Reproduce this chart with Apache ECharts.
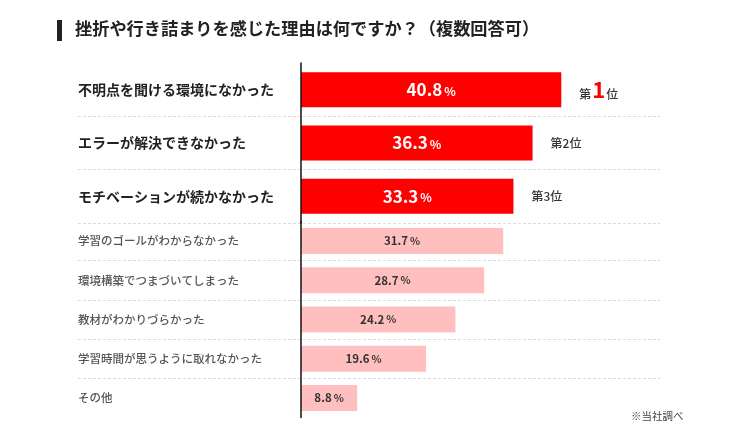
<!DOCTYPE html>
<html>
<head>
<meta charset="utf-8">
<script src="https://cdn.jsdelivr.net/npm/echarts@6/dist/echarts.min.js"></script>
<style>
html,body{margin:0;padding:0;background:#fff;}
#c{width:752px;height:439px;}
</style>
</head>
<body>
<div id="c"></div>
<script>
var titleText = '挫折や行き詰まりを感じた理由は何ですか？（複数回答可）';
var noteText = '※当社調べ';
var topCats = ['不明点を聞ける環境になかった', 'エラーが解決できなかった', 'モチベーションが続かなかった'];
var topVals = [40.8, 36.3, 33.3];
var topRanks = ['1', '2', '3'];
var bottomCats = ['学習のゴールがわからなかった', '環境構築でつまづいてしまった', '教材がわかりづらかった', '学習時間が思うように取れなかった', 'その他'];
var bottomVals = [31.7, 28.7, 24.2, 19.6, 8.8];

var FONT = '"Noto Sans CJK JP", "Noto Sans", sans-serif';
var chart = echarts.init(document.getElementById('c'), null, {renderer: 'canvas'});

function valueAxis(idx) {
  return {gridIndex: idx, type: 'value', min: 0, max: 50, show: false};
}

var option = {
  backgroundColor: '#ffffff',
  animation: false,
  textStyle: {fontFamily: FONT},
  title: [
    {text: titleText, left: 75, top: 20, padding: 0,
     textStyle: {fontFamily: FONT, fontSize: 17.2, fontWeight: 'bold', color: '#222'}},
    {text: noteText, left: 631, top: 411, padding: 0,
     textStyle: {fontFamily: FONT, fontSize: 10.5, fontWeight: 'normal', color: '#444'}}
  ],
  graphic: [
    {type: 'rect', left: 57, top: 20, shape: {width: 5, height: 21}, style: {fill: '#222'}}
  ],
  grid: [
    {left: 301, right: 132, top: 63, height: 160},
    {left: 301, right: 132, top: 221.5, height: 196},
    {left: 78, right: 92, top: 63, height: 160},
    {left: 78, right: 92, top: 221.5, height: 196}
  ],
  xAxis: [valueAxis(0), valueAxis(1), valueAxis(2), valueAxis(3)],
  yAxis: [
    {gridIndex: 0, type: 'category', data: topCats, inverse: true, z: 5,
     axisLine: {show: true, lineStyle: {color: '#111', width: 1.5}},
     axisTick: {show: false}, splitLine: {show: false},
     axisLabel: {align: 'left', margin: 223, fontFamily: FONT, fontSize: 14, fontWeight: 'bold', color: '#222'}},
    {gridIndex: 1, type: 'category', data: bottomCats, inverse: true, z: 5,
     axisLine: {show: true, lineStyle: {color: '#111', width: 1.5}},
     axisTick: {show: false}, splitLine: {show: false},
     axisLabel: {align: 'left', margin: 223, fontFamily: FONT, fontSize: 11.5, fontWeight: 500, color: '#555'}},
    {gridIndex: 2, type: 'category', data: topCats, inverse: true,
     axisLine: {show: false}, axisTick: {show: false}, axisLabel: {show: false},
     splitLine: {show: true, interval: 0, showMinLine: false, showMaxLine: true,
                 lineStyle: {color: '#dcdcdc', type: [3, 2], width: 1}}},
    {gridIndex: 3, type: 'category', data: bottomCats, inverse: true,
     axisLine: {show: false}, axisTick: {show: false}, axisLabel: {show: false},
     splitLine: {show: true, interval: 0, showMinLine: false, showMaxLine: false,
                 lineStyle: {color: '#dcdcdc', type: [3, 2], width: 1}}}
  ],
  series: [
    {type: 'bar', xAxisIndex: 0, yAxisIndex: 0, data: topVals, barWidth: 35,
     itemStyle: {color: '#ff0000'}, z: 3,
     label: {show: true, position: 'inside',
       formatter: function (p) { return '{v|' + p.value.toFixed(1) + '}{p|%}'; },
       rich: {
         v: {fontFamily: FONT, fontSize: 17, fontWeight: 'bold', color: '#fff'},
         p: {fontFamily: FONT, fontSize: 12, fontWeight: 'bold', color: '#fff', padding: [3, 0, 0, 2]}
       }}},
    {type: 'bar', xAxisIndex: 0, yAxisIndex: 0, data: topVals, barWidth: 35, barGap: '-100%',
     itemStyle: {color: 'rgba(0,0,0,0)'}, z: 2, silent: true,
     label: {show: true, position: 'right', distance: 18,
       formatter: function (p) {
         var r = topRanks[p.dataIndex];
         return r === '1' ? '{t|第}{b|' + r + '}{t|位}' : '{t|第}{n|' + r + '}{t|位}';
       },
       rich: {
         t: {fontFamily: FONT, fontSize: 12, fontWeight: 500, color: '#333', verticalAlign: 'bottom'},
         n: {fontFamily: FONT, fontSize: 12, fontWeight: 500, color: '#333', verticalAlign: 'bottom'},
         b: {fontFamily: FONT, fontSize: 22, fontWeight: 'bold', color: '#ff0000', padding: [0, 1, 0, 1]}
       }}},
    {type: 'bar', xAxisIndex: 1, yAxisIndex: 1, data: bottomVals, barWidth: 26,
     itemStyle: {color: '#ffbfbf'}, z: 3,
     label: {show: true, position: 'inside',
       formatter: function (p) { return '{v|' + p.value.toFixed(1) + '}{p|%}'; },
       rich: {
         v: {fontFamily: FONT, fontSize: 11.5, fontWeight: 'bold', color: '#333'},
         p: {fontFamily: FONT, fontSize: 10.5, fontWeight: 'bold', color: '#333', padding: [0, 0, 0, 2]}
       }}}
  ]
};
chart.setOption(option);
</script>
</body>
</html>
